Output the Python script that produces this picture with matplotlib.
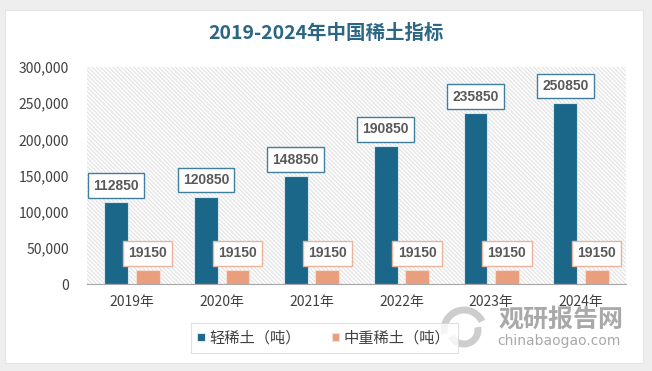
from matplotlib import pyplot as plt, ticker, patches
import numpy as np

years = ['2019年', '2020年', '2021年', '2022年', '2023年', '2024年']
light = [112850, 120850, 148850, 190850, 235850, 250850]
heavy = [19150, 19150, 19150, 19150, 19150, 19150]
series_names = ['轻稀土（吨）', '中重稀土（吨）']

BLUE = '#1b6789'
ORANGE = '#e99e7e'

plt.rcParams['font.family'] = ['Noto Sans CJK SC', 'DejaVu Sans']
plt.rcParams['hatch.linewidth'] = 1.0

fig = plt.figure(figsize=(6.52, 3.71), dpi=100, facecolor='#eeeeee')
W, H = 652, 371

# white card behind everything
card = patches.Rectangle((5 / W, (H - 363) / H), 638 / W, 353 / H, transform=fig.transFigure,
                         facecolor='white', edgecolor='#e4e4e4', linewidth=0.8, zorder=-5)
fig.patches.append(card)

ax = fig.add_axes([87 / W, (H - 284) / H, 539 / W, 217 / H])
ax.set_facecolor('none')
ax.add_patch(patches.Rectangle((0, 0), 1, 1, transform=ax.transAxes, facecolor='white',
                               edgecolor='#e6e6e6', linewidth=0, hatch='\\' * 8, zorder=0))

x = np.arange(len(years))
w = 0.265
off = 0.175
b1 = ax.bar(x - off, light, w, color=BLUE, edgecolor='#d8e6ee', linewidth=0.8, zorder=2, label=series_names[0])
b2 = ax.bar(x + off, heavy, w, color=ORANGE, edgecolor='#f6ddd2', linewidth=0.8, zorder=2, label=series_names[1])

for bars, vals, ec in [(b1, light, '#3f7f9c'), (b2, heavy, '#eab49c')]:
    for rect, v in zip(bars, vals):
        ax.annotate(str(v), (rect.get_x() + rect.get_width() / 2, v), xytext=(0, 7),
                    textcoords='offset points', ha='center', va='bottom',
                    fontsize=10, fontweight='bold', color='#595959', family='Liberation Sans',
                    bbox=dict(boxstyle='square,pad=0.38', facecolor='white', edgecolor=ec, linewidth=1.0),
                    zorder=4)

ax.set_xlim(-0.5, len(years) - 0.5)
ax.set_ylim(0, 300000)
ax.yaxis.set_major_locator(ticker.MultipleLocator(50000))
ax.yaxis.set_major_formatter(ticker.FuncFormatter(lambda v, pos: f'{int(v):,}'))
ax.set_xticks(x)
ax.set_xticklabels(years)
ax.tick_params(axis='y', length=0, pad=13, labelsize=10, labelcolor='#404040')
ax.tick_params(axis='x', length=0, pad=8, labelsize=10, labelcolor='#404040')
for s in ['top', 'right', 'left']:
    ax.spines[s].set_visible(False)
ax.spines['bottom'].set_color('#a6a6a6')
ax.spines['bottom'].set_zorder(3)

fig.text(326 / W, (H - 33) / H, '2019-2024年中国稀土指标', ha='center', va='center',
         fontsize=14, fontweight='bold', color='#2b6685')

# watermark
fig.text(561 / W, (H - 320) / H, '观研报告网', ha='center', va='center', fontsize=18,
         fontweight='bold', color='#8c8c8c', alpha=0.75, zorder=5)
fig.text(559 / W, (H - 341) / H, 'chinabaogao.com', ha='center', va='center', fontsize=10,
         color='#8c8c8c', alpha=0.75, zorder=5, family='DejaVu Sans')
for r, t1, t2 in [(20, 40, 200), (14, 220, 380)]:
    fig.patches.append(patches.Arc((464 / W, (H - 330) / H), 2 * r / W, 2 * r / H, theta1=t1, theta2=t2,
                                   transform=fig.transFigure, color='#b8b8b8', linewidth=5, alpha=0.7, zorder=5))

leg = fig.legend(handles=[b1, b2], labels=series_names, loc='center', bbox_to_anchor=(324 / W, (H - 338) / H),
                 ncol=2, frameon=True, fancybox=False, edgecolor='#d9d9d9', fontsize=11,
                 handlelength=0.5, handleheight=0.5, columnspacing=2.0, handletextpad=0.3,
                 borderpad=0.45)
leg.get_frame().set_linewidth(0.8)
for t in leg.get_texts():
    t.set_color('#404040')

fig.savefig('out.png', dpi=100, facecolor=fig.get_facecolor())
